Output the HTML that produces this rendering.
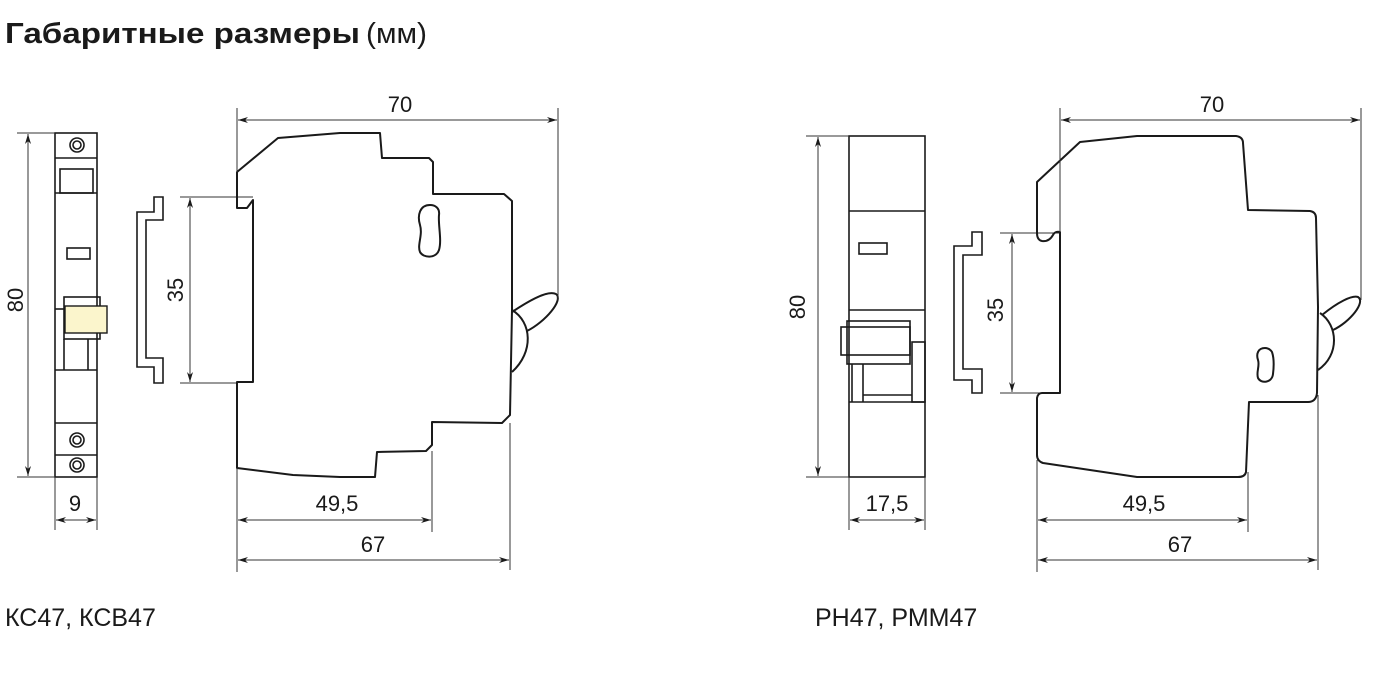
<!DOCTYPE html>
<html><head><meta charset="utf-8"><style>
html,body{margin:0;padding:0;background:#fff;}
svg{display:block;}
text{font-family:"Liberation Sans","DejaVu Sans",sans-serif;fill:#1a1a1a;}
.b{fill:none;stroke:#1a1a1a;stroke-width:2;stroke-linejoin:round;}
.t{fill:none;stroke:#1a1a1a;stroke-width:1.6;}
.d{fill:none;stroke:#333;stroke-width:1;}
.dm{font-size:22px;}
</style></head><body>
<svg width="1376" height="686" viewBox="0 0 1376 686" xmlns="http://www.w3.org/2000/svg">
<defs>
<marker id="a" viewBox="0 0 10 6" refX="10" refY="3" markerWidth="10" markerHeight="6" orient="auto-start-reverse" markerUnits="userSpaceOnUse">
<path d="M0,0 L10,3 L0,6 L3,3 z" fill="#1a1a1a"/></marker>
</defs>
<text x="5" y="43" font-size="29" font-weight="bold" textLength="355" lengthAdjust="spacingAndGlyphs">Габаритные размеры</text>
<text x="366" y="43" font-size="29" textLength="61" lengthAdjust="spacingAndGlyphs">(мм)</text>
<text x="5" y="626" font-size="25">КС47, КСВ47</text>
<text x="815" y="626" font-size="25">РН47, РММ47</text>

<!-- LEFT FRONT VIEW -->
<rect x="55" y="133" width="42" height="344" class="t"/>
<line x1="55" y1="158" x2="97" y2="158" class="t"/>
<rect x="60" y="169" width="33" height="24" class="t"/>
<line x1="55" y1="193" x2="97" y2="193" class="t"/>
<rect x="67" y="248" width="23" height="11" class="t"/>
<rect x="64" y="297" width="36" height="42" class="t"/>
<rect x="65" y="306" width="42" height="27" fill="#fbf5cc" stroke="#1a1a1a" stroke-width="1.4"/>
<line x1="55" y1="309" x2="64" y2="309" class="t"/>
<line x1="64" y1="339" x2="64" y2="370" class="t"/>
<line x1="88" y1="339" x2="88" y2="370" class="t"/>
<line x1="55" y1="370" x2="97" y2="370" class="t"/>
<line x1="55" y1="423" x2="97" y2="423" class="t"/>
<line x1="55" y1="455" x2="97" y2="455" class="t"/>
<g class="t" stroke-width="1.2">
<circle cx="77" cy="145" r="7"/><circle cx="77" cy="145" r="4"/>
<circle cx="77" cy="440" r="7"/><circle cx="77" cy="440" r="4"/>
<circle cx="77" cy="465" r="7"/><circle cx="77" cy="465" r="4"/>
</g>
<line x1="17" y1="133" x2="55" y2="133" class="d"/>
<line x1="17" y1="477" x2="55" y2="477" class="d"/>
<line x1="28" y1="134" x2="28" y2="476" class="d" marker-start="url(#a)" marker-end="url(#a)"/>
<text class="dm" transform="translate(23,300) rotate(-90)" text-anchor="middle">80</text>
<line x1="55" y1="477" x2="55" y2="530" class="d"/>
<line x1="97" y1="477" x2="97" y2="530" class="d"/>
<line x1="56" y1="520" x2="96" y2="520" class="d" marker-start="url(#a)" marker-end="url(#a)"/>
<text class="dm" x="75" y="511" text-anchor="middle">9</text>

<!-- LEFT DIN RAIL -->
<path class="t" d="M154,197 L163,197 L163,220 L146,220 L146,358 L163,358 L163,383 L154,383 L154,367 L137,367 L137,212 L154,212 Z"/>
<line x1="180" y1="197" x2="253" y2="197" class="d"/>
<line x1="180" y1="383" x2="237" y2="383" class="d"/>
<line x1="190" y1="198" x2="190" y2="382" class="d" marker-start="url(#a)" marker-end="url(#a)"/>
<text class="dm" transform="translate(183,290) rotate(-90)" text-anchor="middle">35</text>

<!-- LEFT SIDE BODY -->
<path class="b" d="M237,172 L278,138 L340,133 L380,133 L382,158 L429,158 L433,162 L433,194 L504,194 L512,201 L512,310 L510,415 L502,423 L432,422 L432,445 L426,451 L377,452 L375,477 L340,477 L293,475 L237,468 L237,382 L253,382 L253,200 L247,208 L237,208 Z"/>
<path class="b" d="M430,205 C420,205 417,215 420,225 C423,235 417,245 420,252 C423,258 436,259 439,250 C442,240 438,225 439,215 C440,208 435,205 430,205 Z" stroke-width="1.6"/>
<path class="b" stroke-width="1.6" d="M512,312 C530,300 548,290 556,294 C564,300 545,322 527,331"/>
<path class="b" stroke-width="1.6" d="M512,310 C532,322 534,352 512,372"/>
<line x1="237" y1="108" x2="237" y2="172" class="d"/>
<line x1="558" y1="108" x2="558" y2="300" class="d"/>
<line x1="238" y1="120" x2="557" y2="120" class="d" marker-start="url(#a)" marker-end="url(#a)"/>
<text class="dm" x="400" y="112" text-anchor="middle">70</text>
<line x1="237" y1="468" x2="237" y2="572" class="d"/>
<line x1="432" y1="451" x2="432" y2="532" class="d"/>
<line x1="510" y1="423" x2="510" y2="570" class="d"/>
<line x1="238" y1="520" x2="431" y2="520" class="d" marker-start="url(#a)" marker-end="url(#a)"/>
<text class="dm" x="337" y="511" text-anchor="middle">49,5</text>
<line x1="238" y1="560" x2="509" y2="560" class="d" marker-start="url(#a)" marker-end="url(#a)"/>
<text class="dm" x="373" y="552" text-anchor="middle">67</text>

<!-- RIGHT FRONT VIEW -->
<rect x="849" y="136" width="76" height="341" class="t"/>
<line x1="849" y1="211" x2="925" y2="211" class="t"/>
<rect x="859" y="243" width="28" height="11" class="t"/>
<line x1="849" y1="310" x2="925" y2="310" class="t"/>
<rect x="847" y="321" width="63" height="43" class="t" fill="#fff"/>
<rect x="841" y="327" width="69" height="28" class="t"/>
<rect x="912" y="342" width="13" height="60" class="t"/>
<line x1="852" y1="364" x2="852" y2="402" class="t"/>
<line x1="863" y1="364" x2="863" y2="402" class="t"/>
<line x1="863" y1="395" x2="912" y2="395" class="t"/>
<line x1="849" y1="402" x2="925" y2="402" class="t"/>
<line x1="806" y1="136" x2="849" y2="136" class="d"/>
<line x1="806" y1="477" x2="849" y2="477" class="d"/>
<line x1="818" y1="137" x2="818" y2="476" class="d" marker-start="url(#a)" marker-end="url(#a)"/>
<text class="dm" transform="translate(805,307) rotate(-90)" text-anchor="middle">80</text>
<line x1="849" y1="477" x2="849" y2="530" class="d"/>
<line x1="925" y1="477" x2="925" y2="530" class="d"/>
<line x1="850" y1="520" x2="924" y2="520" class="d" marker-start="url(#a)" marker-end="url(#a)"/>
<text class="dm" x="887" y="511" text-anchor="middle">17,5</text>

<!-- RIGHT DIN RAIL -->
<path class="t" d="M972,232 L982,232 L982,255 L963,255 L963,369 L982,369 L982,393 L972,393 L972,380 L954,380 L954,246 L972,246 Z"/>
<line x1="1000" y1="233" x2="1060" y2="233" class="d"/>
<line x1="1000" y1="393" x2="1060" y2="393" class="d"/>
<line x1="1012" y1="234" x2="1012" y2="392" class="d" marker-start="url(#a)" marker-end="url(#a)"/>
<text class="dm" transform="translate(1003,310) rotate(-90)" text-anchor="middle">35</text>

<!-- RIGHT SIDE BODY -->
<path class="b" d="M1037,182 L1080,142 L1137,136 L1236,136 Q1243,137 1243,143 L1248,210 L1310,211 Q1316,212 1316,218 L1318,307 L1317,393 Q1316,402 1308,402 L1249,402 L1246,472 Q1245,477 1238,477 L1137,477 L1043,463 Q1037,461 1037,455 L1037,398 Q1038,393 1042,393 L1060,393 L1060,232 Q1055,231 1053,235 Q1049,242 1042,241 Q1037,240 1037,233 Z"/>
<path class="b" stroke-width="1.6" d="M1265,348 C1258,348 1256,354 1258,360 C1260,366 1256,372 1258,378 C1261,384 1272,383 1273,374 C1274,366 1274,358 1272,352 C1270,349 1268,348 1265,348 Z"/>
<path class="b" stroke-width="1.6" d="M1322,315 C1338,302 1352,295 1358,297 C1366,302 1350,322 1333,330"/>
<path class="b" stroke-width="1.6" d="M1320,313 C1338,325 1340,355 1318,370"/>
<line x1="1060" y1="108" x2="1060" y2="232" class="d"/>
<line x1="1361" y1="108" x2="1361" y2="300" class="d"/>
<line x1="1061" y1="120" x2="1360" y2="120" class="d" marker-start="url(#a)" marker-end="url(#a)"/>
<text class="dm" x="1212" y="112" text-anchor="middle">70</text>
<line x1="1037" y1="460" x2="1037" y2="572" class="d"/>
<line x1="1248" y1="472" x2="1248" y2="532" class="d"/>
<line x1="1318" y1="395" x2="1318" y2="570" class="d"/>
<line x1="1038" y1="520" x2="1247" y2="520" class="d" marker-start="url(#a)" marker-end="url(#a)"/>
<text class="dm" x="1144" y="511" text-anchor="middle">49,5</text>
<line x1="1038" y1="560" x2="1317" y2="560" class="d" marker-start="url(#a)" marker-end="url(#a)"/>
<text class="dm" x="1180" y="552" text-anchor="middle">67</text>
</svg>
</body></html>
